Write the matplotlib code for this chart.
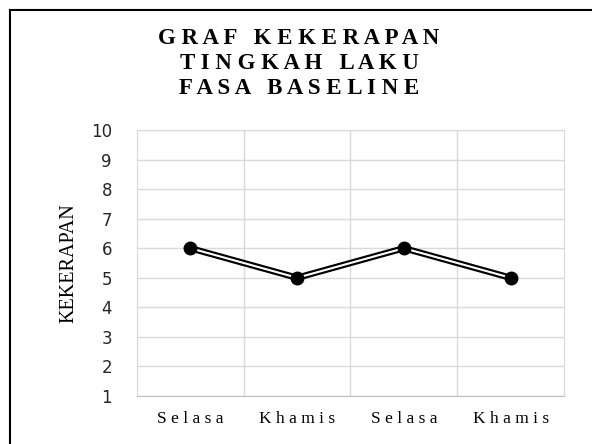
import matplotlib.pyplot as plt
from matplotlib.lines import Line2D

# Data
days = ["Selasa", "Khamis", "Selasa", "Khamis"]
kekerapan = [6, 5, 6, 5]
y_ticks = list(range(1, 11))
title_lines = ["GRAF KEKERAPAN", "TINGKAH LAKU", "FASA BASELINE"]


def spaced(text, gap=" "):
    # spread letters apart like the original title
    return "   ".join(gap.join(word) for word in text.split(" "))


fig = plt.figure(figsize=(5.92, 4.44), dpi=100)
ax = fig.add_axes([0.2314, 0.1081, 0.7213, 0.5991])

x = list(range(1, len(days) + 1))
# double line: thick black with thin white on top
ax.plot(x, kekerapan, color="black", linewidth=4.6, zorder=3, solid_capstyle="butt")
ax.plot(x, kekerapan, color="white", linewidth=1.5, zorder=4, solid_capstyle="butt")
ax.plot(x, kekerapan, linestyle="none", marker="o", markersize=9,
        color="black", zorder=5)

ax.set_xlim(0.5, len(days) + 0.5)
ax.set_ylim(1, 10)
ax.set_yticks(y_ticks)
ax.set_xticks(x)
ax.set_xticklabels([" ".join(d) for d in days], fontfamily="Liberation Serif", fontsize=12.5)
ax.set_xticks([1.5, 2.5, 3.5], minor=True)

ax.grid(True, axis="y", which="major", color="#d9d9d9", linewidth=1)
ax.grid(True, axis="x", which="minor", color="#d9d9d9", linewidth=1)
ax.tick_params(axis="both", which="both", length=0)
ax.tick_params(axis="y", labelsize=12, pad=18, labelcolor="#262626")
ax.tick_params(axis="x", pad=11)
for side in ["left", "right", "top"]:
    ax.spines[side].set_color("#d9d9d9")
ax.spines["bottom"].set_color("#bfbfbf")

ax.set_ylabel("KEKERAPAN", fontfamily="Liberation Serif", fontsize=14.5,
              labelpad=9)

for i, line in enumerate(title_lines):
    fig.text(0.505, 1 - (39 + 24.5 * i) / 444, spaced(line), ha="center", va="center",
             fontfamily="Liberation Serif", fontweight="bold", fontsize=16.5)

# outer frame (top and left only visible)
fig.add_artist(Line2D([10 / 592, 1], [1 - 10 / 444, 1 - 10 / 444],
                      transform=fig.transFigure, color="black", linewidth=1.5))
fig.add_artist(Line2D([10 / 592, 10 / 592], [0, 1 - 10 / 444],
                      transform=fig.transFigure, color="black", linewidth=1.5))

fig.savefig("out.png", dpi=100)
